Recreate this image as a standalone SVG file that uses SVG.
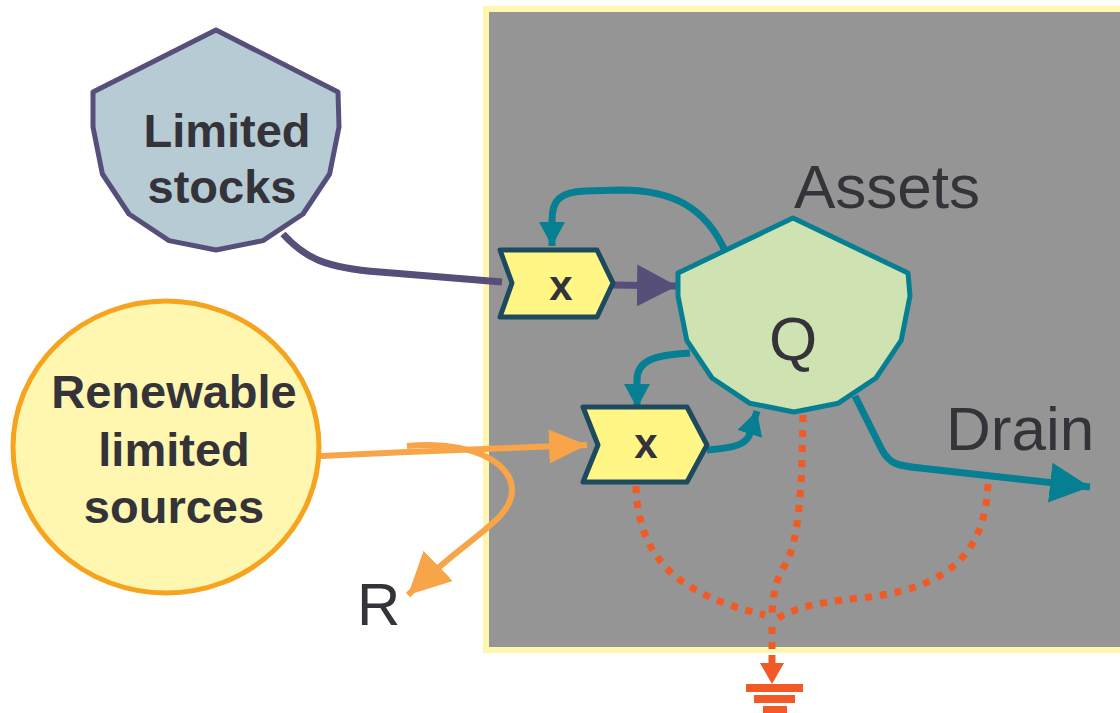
<svg xmlns="http://www.w3.org/2000/svg" width="1120" height="713" viewBox="0 0 1120 713">
<style>
.lbl{font-family:"Liberation Sans",Arial,sans-serif;fill:#333339}
.b{font-weight:bold}
.teal{fill:none;stroke:#077f93;stroke-width:7}
.purp{fill:none;stroke:#564f7a;stroke-width:7}
.orng{fill:none;stroke:#f8a54a;stroke-width:6}
.dot{fill:none;stroke:#f15a24;stroke-width:7;stroke-dasharray:7 8}
</style>
<defs>
<marker id="aPurp" markerUnits="userSpaceOnUse" markerWidth="42" markerHeight="42" refX="40" refY="21" orient="auto"><path d="M0 0 L40 21 L0 42 Z" fill="#564f7a"/></marker>
<marker id="aTeal" markerUnits="userSpaceOnUse" markerWidth="26" markerHeight="28" refX="24" refY="13" orient="auto"><path d="M0 0 L24 13 L0 26 Z" fill="#077f93"/></marker>
<marker id="aTealBig" markerUnits="userSpaceOnUse" markerWidth="42" markerHeight="42" refX="40" refY="20" orient="auto"><path d="M0 0 L40 20 L0 40 Z" fill="#077f93"/></marker>
<marker id="aOrng" markerUnits="userSpaceOnUse" markerWidth="40" markerHeight="36" refX="38" refY="17" orient="auto"><path d="M0 0 L38 17 L0 34 Z" fill="#f8a54a"/></marker>
<marker id="aOrngBig" markerUnits="userSpaceOnUse" markerWidth="44" markerHeight="44" refX="42" refY="21" orient="auto"><path d="M0 0 L42 21 L0 42 Z" fill="#f8a54a"/></marker>
</defs>
<rect x="486" y="9" width="640" height="641" fill="#959595" stroke="#fff6b0" stroke-width="6"/>
<g id="connectors">
<path class="purp" d="M283 234 C305 258 325 268 380 272 L502 282"/>
<path class="purp" d="M613 285 L677 286" marker-end="url(#aPurp)"/>
<path class="teal" d="M726 253 C705 205 670 190 620 190 L585 191 C560 192 552 200 552 220 L552 246" marker-end="url(#aTeal)"/>
<path class="teal" d="M690 353 C655 355 637 360 637 380 L637 408" marker-end="url(#aTeal)"/>
<path class="teal" d="M707 450 C730 448 744 446 749 436 L757 411" marker-end="url(#aTeal)"/>
<path class="teal" d="M855 396 L882 450 C890 465 900 466 920 468 L1090 487" marker-end="url(#aTealBig)"/>
<path class="orng" d="M321 456 L407 452 L587 445" marker-end="url(#aOrng)"/>
<path class="orng" d="M407 446 C470 440 512 462 512 490 C512 520 470 535 408 595" marker-end="url(#aOrngBig)"/>
<path class="dot" d="M636 486 C638 560 680 595 765 615"/>
<path class="dot" d="M803 415 C802 480 800 540 785 565 C775 580 772 600 772 620"/>
<path class="dot" d="M988 484 C985 560 940 590 860 598 C810 603 790 610 775 620"/>
<path class="dot" d="M772 627 L772 655"/>
<path d="M772 655 L772 665" stroke="#f15a24" stroke-width="7"/>
<path d="M760 663 L784 663 L772 684 Z" fill="#f15a24"/>
<rect x="746" y="684" width="57" height="8" fill="#f15a24"/>
<rect x="754" y="695" width="41" height="8" fill="#f15a24"/>
<rect x="763" y="706" width="24" height="7" fill="#f15a24"/>
</g>
<g id="limited-stocks">
<path d="M216 30 L338 92 L339 127 L329.6 174 L303 214 L263 240.6 L216 250 L169 240.6 L129 214 L102.4 174 L93 127 L93 92 Z" fill="#b7cbd4" stroke="#564f7a" stroke-width="5" stroke-linejoin="round"/>
<text class="lbl b" x="227" y="147" font-size="47" text-anchor="middle">Limited</text>
<text class="lbl b" x="222" y="203" font-size="47" text-anchor="middle">stocks</text>
</g>
<g id="renewable">
<ellipse cx="166" cy="447" rx="153" ry="146" fill="#fff6b0" stroke="#f6a41e" stroke-width="5"/>
<text class="lbl b" x="174" y="408" font-size="47" text-anchor="middle">Renewable</text>
<text class="lbl b" x="174" y="466" font-size="47" text-anchor="middle">limited</text>
<text class="lbl b" x="174" y="523" font-size="47" text-anchor="middle">sources</text>
</g>
<g id="x1">
<path d="M500 250 L597 250 L613 283 L597 317 L500 317 L512 283 Z" fill="#fff685" stroke="#1d4a5f" stroke-width="5" stroke-linejoin="round"/>
<text class="lbl b" x="561" y="300" font-size="42" text-anchor="middle">x</text>
</g>
<g id="x2">
<path d="M583 407 L687 407 L707 445 L687 482 L583 482 L598 445 Z" fill="#fff685" stroke="#1d4a5f" stroke-width="5" stroke-linejoin="round"/>
<text class="lbl b" x="646" y="458" font-size="42" text-anchor="middle">x</text>
</g>
<g id="assets">
<path d="M793 218 L908 273 L910 296 L901.2 340.4 L876 378 L838.4 403.2 L794 412 L749.6 403.2 L712 378 L686.8 340.4 L678 296 L678 273 Z" fill="#cfe3b2" stroke="#077f93" stroke-width="5" stroke-linejoin="round"/>
<text class="lbl" x="887" y="208" font-size="62" text-anchor="middle">Assets</text>
<text class="lbl" x="793" y="360" font-size="62" text-anchor="middle">Q</text>
</g>
<g id="labels">
<text class="lbl" x="946" y="450" font-size="62">Drain</text>
<text class="lbl" x="357" y="625" font-size="60">R</text>
</g>
</svg>
